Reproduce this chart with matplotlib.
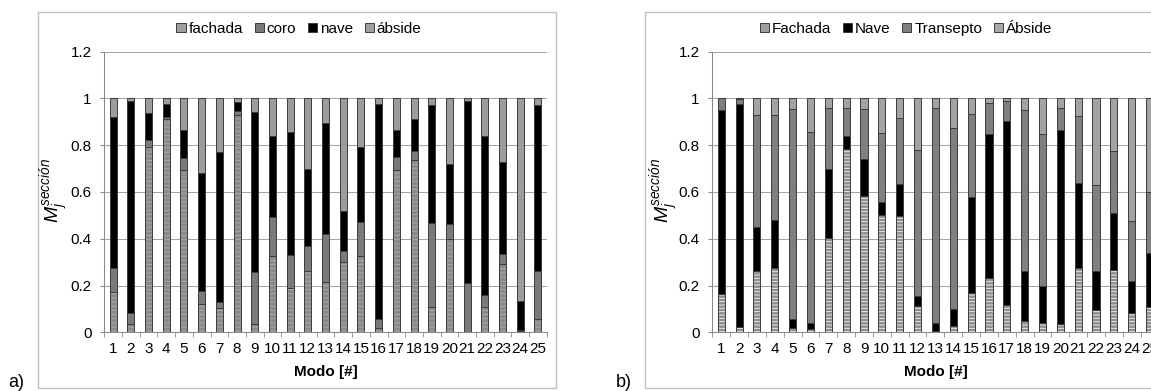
import matplotlib
matplotlib.use('Agg')
import matplotlib.pyplot as plt
from matplotlib.patches import Patch, Rectangle
import numpy as np

modos = list(range(1, 26))

# a) participacion por seccion
a_fachada = [0.174, 0.034, 0.790, 0.913, 0.695, 0.119, 0.102, 0.929, 0.034, 0.325,
             0.191, 0.261, 0.213, 0.302, 0.325, 0.020, 0.694, 0.736, 0.106, 0.397,
             0.000, 0.109, 0.291, 0.005, 0.055]
a_coro = [0.101, 0.050, 0.033, 0.005, 0.048, 0.058, 0.028, 0.017, 0.224, 0.166,
          0.139, 0.109, 0.207, 0.046, 0.145, 0.035, 0.055, 0.040, 0.361, 0.064,
          0.209, 0.050, 0.044, 0.005, 0.206]
a_nave = [0.647, 0.905, 0.116, 0.056, 0.121, 0.502, 0.640, 0.040, 0.685, 0.346,
          0.524, 0.330, 0.476, 0.170, 0.323, 0.919, 0.116, 0.135, 0.503, 0.258,
          0.780, 0.679, 0.393, 0.123, 0.709]
a_abside = [0.078, 0.011, 0.061, 0.026, 0.136, 0.321, 0.230, 0.014, 0.057, 0.163,
            0.146, 0.300, 0.104, 0.482, 0.207, 0.026, 0.135, 0.089, 0.030, 0.281,
            0.011, 0.162, 0.272, 0.867, 0.030]
a_names = ['fachada', 'coro', 'nave', 'ábside']

# b)
b_fachada = [0.165, 0.021, 0.261, 0.275, 0.020, 0.014, 0.401, 0.785, 0.584, 0.500,
             0.496, 0.112, 0.005, 0.027, 0.170, 0.234, 0.116, 0.048, 0.038, 0.035,
             0.275, 0.095, 0.268, 0.083, 0.109]
b_nave = [0.784, 0.953, 0.190, 0.204, 0.038, 0.024, 0.295, 0.056, 0.158, 0.055,
          0.136, 0.042, 0.033, 0.071, 0.407, 0.615, 0.787, 0.213, 0.160, 0.829,
          0.362, 0.166, 0.241, 0.135, 0.231]
b_transepto = [0.051, 0.021, 0.477, 0.449, 0.895, 0.816, 0.261, 0.116, 0.214, 0.296,
               0.283, 0.627, 0.922, 0.774, 0.355, 0.133, 0.087, 0.688, 0.649, 0.096,
               0.288, 0.370, 0.267, 0.256, 0.260]
b_abside = [0.000, 0.005, 0.072, 0.072, 0.047, 0.146, 0.043, 0.043, 0.044, 0.149,
            0.085, 0.219, 0.040, 0.128, 0.068, 0.018, 0.010, 0.051, 0.153, 0.040,
            0.075, 0.369, 0.224, 0.526, 0.400]
b_names = ['Fachada', 'Nave', 'Transepto', 'Ábside']

W, H = 1151, 391

plt.rcParams['font.family'] = ['Liberation Sans', 'DejaVu Sans']
plt.rcParams['mathtext.fontset'] = 'custom'
plt.rcParams['mathtext.rm'] = 'Liberation Sans'
plt.rcParams['mathtext.it'] = 'Liberation Sans:italic'
plt.rcParams['hatch.linewidth'] = 0.6

EDGE = '#3c3c3c'
AXC = '#8a8a8a'


def fig_rect(x0, y0, x1, y1):
    # pixel box (top-left origin) -> figure fraction
    return [x0 / W, 1 - y1 / H, (x1 - x0) / W, (y1 - y0) / H]


def draw_panel(fig, rect, series, faces, hatch_face, hatch_col, hatch, names, leg_faces, leg_xy):
    ax = fig.add_axes(rect)
    x = np.array(modos)
    bottom = np.zeros(len(x))
    for i, vals in enumerate(series):
        vals = np.array(vals)
        if i == 0:
            ax.bar(x, vals, 0.4, bottom=bottom, color=hatch_face, edgecolor=hatch_col,
                   hatch=hatch, linewidth=0)
            ax.bar(x, vals, 0.4, bottom=bottom, facecolor='none', edgecolor=EDGE, linewidth=0.7)
        else:
            ax.bar(x, vals, 0.4, bottom=bottom, color=faces[i], edgecolor=EDGE, linewidth=0.7)
        bottom += vals

    ax.set_xlim(0.5, 25.5)
    ax.set_ylim(0, 1.2)
    ax.set_yticks([0, 0.2, 0.4, 0.6, 0.8, 1.0, 1.2])
    ax.set_yticklabels(['0', '0.2', '0.4', '0.6', '0.8', '1', '1.2'])
    ax.set_xticks(x)
    ax.set_xticklabels([str(m) for m in modos])
    ax.set_xticks(np.arange(0.5, 26, 1), minor=True)
    ax.tick_params(axis='x', which='major', length=0, pad=7, labelsize=11)
    ax.tick_params(axis='x', which='minor', length=3.5, color=AXC, direction='out')
    ax.tick_params(axis='y', length=3, color=AXC, pad=6, labelsize=11)
    ax.yaxis.grid(True, color='#a4a4a4', linewidth=0.75)
    ax.set_axisbelow(True)
    for s in ['top', 'right']:
        ax.spines[s].set_visible(False)
    for s in ['left', 'bottom']:
        ax.spines[s].set_color(AXC)
        ax.spines[s].set_linewidth(0.75)

    ax.set_xlabel('Modo [#]', fontsize=11, fontweight='bold')
    ax.xaxis.set_label_coords(0.5, -0.115)

    handles = [Patch(facecolor=c, edgecolor=EDGE, linewidth=0.7) for c in leg_faces]
    fig.legend(handles, names, loc='center', bbox_to_anchor=(leg_xy[0] / W, 1 - leg_xy[1] / H),
               ncol=4, frameon=False, fontsize=11, handlelength=0.6, handleheight=0.6,
               handletextpad=0.2, columnspacing=0.75, borderpad=0)
    return ax


fig = plt.figure(figsize=(W / 100, H / 100), dpi=100)

# outer chart frames
for x0, x1 in [(38, 556), (645, 1170)]:
    fig.add_artist(Rectangle((x0 / W, 1 - 388 / H), (x1 - x0) / W, (388 - 12) / H,
                             transform=fig.transFigure, fill=False,
                             edgecolor='#c0c0c0', linewidth=1))

draw_panel(fig, fig_rect(104.3, 51.5, 546.8, 332.3),
           [a_fachada, a_coro, a_nave, a_abside],
           [None, '#7a7a7a', '#000000', '#9c9c9c'],
           '#8a8a8a', '#acacac', '----', a_names,
           ['#a0a0a0', '#7a7a7a', '#000000', '#a0a0a0'], (299, 29))

draw_panel(fig, fig_rect(712.3, 51.5, 1158.5, 332.3),
           [b_fachada, b_nave, b_transepto, b_abside],
           [None, '#000000', '#7f7f7f', '#a3a3a3'],
           '#8e8e8e', '#f2f2f2', '-----', b_names,
           ['#a0a0a0', '#000000', '#7f7f7f', '#a8a8a8'], (906, 29))

ylab = r'$M_j^{sección}$'
fig.text(55 / W, 1 - 190 / H, ylab, rotation=90, ha='center', va='center', fontsize=14)
fig.text(665 / W, 1 - 190 / H, ylab, rotation=90, ha='center', va='center', fontsize=14)

fig.text(8 / W, 1 - 387 / H, 'a)', fontsize=13, va='baseline')
fig.text(616 / W, 1 - 387 / H, 'b)', fontsize=13, va='baseline')

fig.savefig('out.png', dpi=100)
